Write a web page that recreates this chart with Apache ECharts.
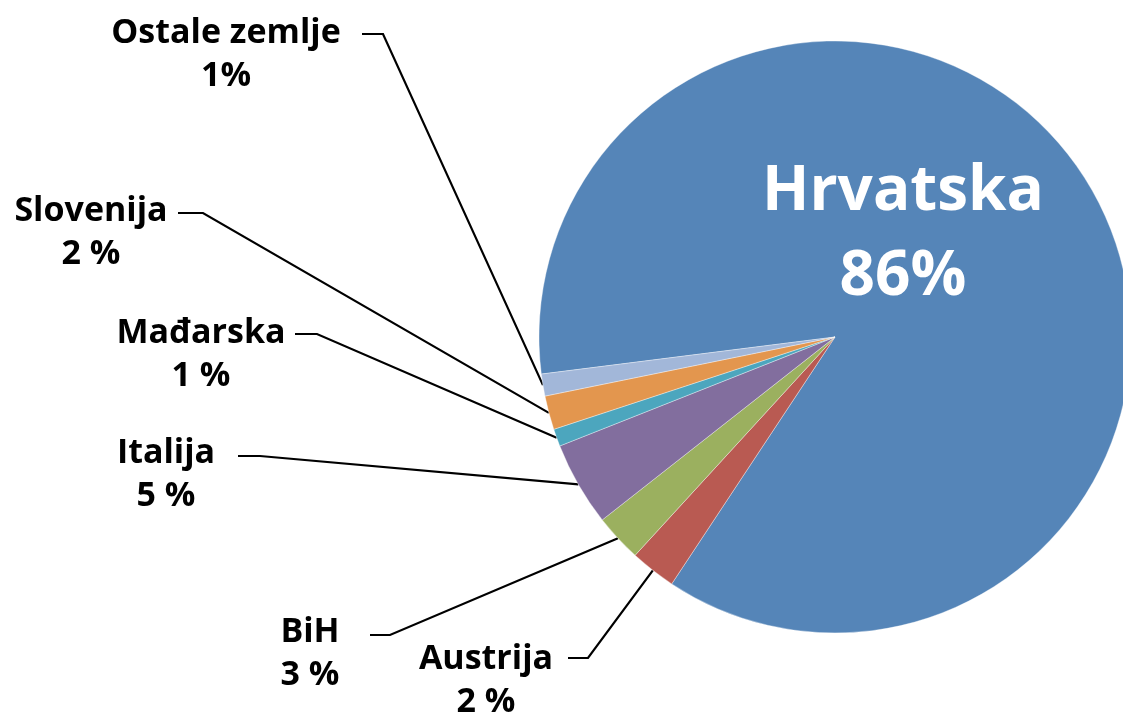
<!DOCTYPE html>
<html>
<head>
<meta charset="utf-8">
<script src="https://cdn.jsdelivr.net/npm/echarts@6/dist/echarts.min.js"></script>
<style>
html,body{margin:0;padding:0;background:#fff;}
#chart{width:1123px;height:712px;}
</style>
</head>
<body>
<div id="chart"></div>
<script>
// ---- data ----
const names = ['Hrvatska', 'Austrija', 'BiH', 'Italija', 'Mađarska', 'Slovenija', 'Ostale zemlje'];
const shares = [86.3, 2.5, 2.6, 4.6, 0.95, 1.85, 1.2];
const pctLabels = ['86%', '2 %', '3 %', '5 %', '1 %', '2 %', '1%'];

// ---- styles / layout ----
const colors = ['#5585B8', '#B95A52', '#9BB05F', '#826E9E', '#4CA6BE', '#E3964E', '#A2B7D9'];
const labelPos = [[903, 235], [486, 681], [310, 654], [166, 475], [201, 355], [91, 233], [226, 55]];
const elbows = [null,
  [[588, 658], [568, 658]],
  [[390, 635], [370, 635]],
  [[260, 456], [238, 456]],
  [[317, 334], [295, 334]],
  [[203, 213], [178, 213]],
  [[383, 34], [362, 34]]];

const font = '"Open Sans", "Noto Sans", sans-serif';

const chart = echarts.init(document.getElementById('chart'), null, {renderer: 'canvas'});

const data = names.map((n, i) => {
  const item = {name: n, value: shares[i], itemStyle: {color: colors[i]}};
  if (i === 0) {
    item.label = {position: 'inside', fontSize: 62, lineHeight: 85, color: '#fff'};
    item.labelLine = {show: false};
  }
  return item;
});

chart.setOption({
  animation: false,
  backgroundColor: '#fff',
  series: [{
    type: 'pie',
    center: [835, 337],
    radius: 296,
    startAngle: 187.2,
    clockwise: true,
    avoidLabelOverlap: false,
    itemStyle: {borderColor: 'rgba(255,255,255,0.6)', borderWidth: 0.6},
    emphasis: {disabled: true},
    label: {
      show: true,
      position: 'outside',
      overflow: 'none',
      fontFamily: font,
      fontWeight: 'bold',
      fontSize: 34,
      lineHeight: 43,
      color: '#000',
      align: 'center',
      formatter: p => names[p.dataIndex] + '\n' + pctLabels[p.dataIndex]
    },
    labelLine: {
      show: true,
      length: 20,
      length2: 20,
      lineStyle: {color: '#000', width: 2.2}
    },
    labelLayout: function (params) {
      const i = params.dataIndex;
      const out = {x: labelPos[i][0], y: labelPos[i][1], align: 'center', verticalAlign: 'middle'};
      if (elbows[i] && params.labelLinePoints) {
        const p0 = params.labelLinePoints[0];
        out.labelLinePoints = [[p0[0], p0[1]], elbows[i][0], elbows[i][1]];
      }
      return out;
    },
    data: data
  }]
});
</script>
</body>
</html>
